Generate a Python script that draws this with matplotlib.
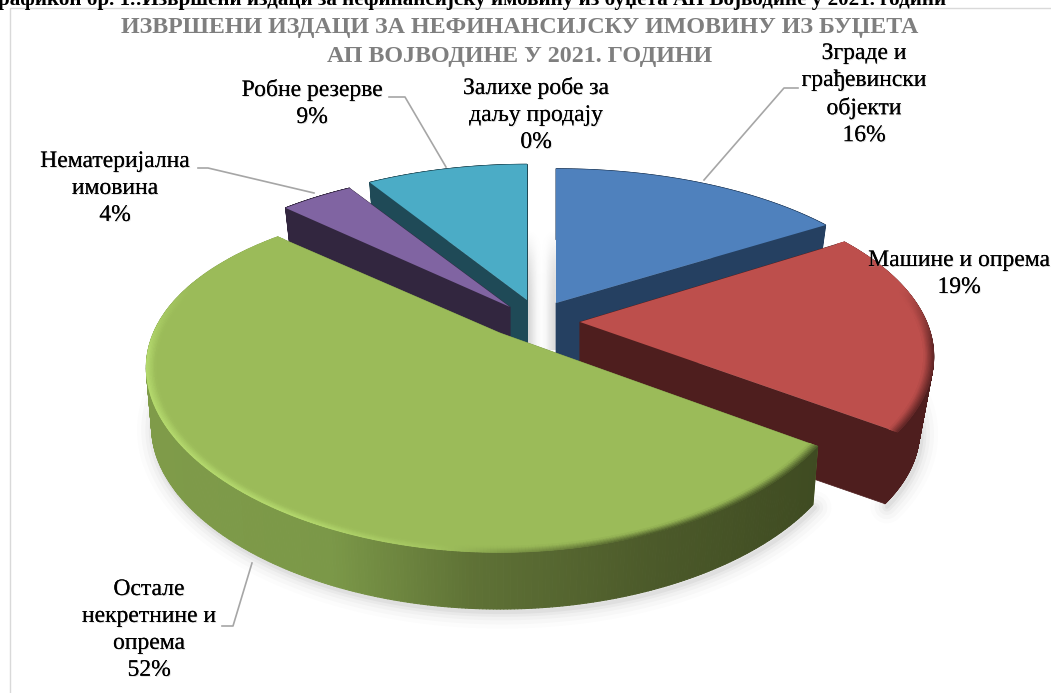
import numpy as np
import matplotlib
matplotlib.use("Agg")
import matplotlib.pyplot as plt
import matplotlib.patheffects as pe
from matplotlib.collections import PolyCollection
from matplotlib.colors import to_rgb

plt.rcParams['font.family'] = ['Liberation Serif', 'DejaVu Serif']

# podaci
categories = ["Зграде и\nграђевински\nобјекти", "Машине и опрема", "Остале\nнекретнине и\nопрема",
              "Нематеријална\nимовина", "Робне резерве", "Залихе робе за\nдаљу продају"]
values = [16, 19, 52, 4, 9, 0]
top_colors = ["#4F81BD", "#BD4F4C", "#9BBB59", "#8064A2", "#4BACC6", "#F79646"]
side_colors = ["#254061", "#4E1E1E", "#7F9B49", "#32263F", "#1F4A57", "#7F4A20"]

title = "ИЗВРШЕНИ ИЗДАЦИ ЗА НЕФИНАНСИЈСКУ ИМОВИНУ ИЗ БУЏЕТА\nАП ВОЈВОДИНЕ У 2021. ГОДИНИ"
header = "Графикон бр. 1.:Извршени издаци за нефинансијску имовину из буџета АП Војводине у 2021. години"

# izgled 3D pite (vrh isecka u pikselima, skala po x i y)
tips = [(556, 303), (580, 322), (500, 333), (510, 307), (527, 300), (541, 300)]
scales = [(1.01, 0.92), (0.99, 0.945), (0.99, 0.94), (1.0, 0.94), (0.98, 0.93), (1.0, 1.0)]
persp_y = [0.2, 0.2, 0.25, 0.2, 0.2, 0.2]
depths = [66, 76, 60, 66, 66, 66]
bottoms = [0.965, 0.96, 0.985, 0.965, 0.965, 0.965]
FX, FY, P = 350, 175, 0.2

label_pos = [(864, 54), (959, 261), (149, 590), (115, 162), (312, 90), (536, 88)]
leaders = {0: [(704, 180), (784, 88), (798, 88)],
           2: [(252, 563), (233, 626), (222, 626)],
           3: [(314, 193), (208, 168), (198, 168)],
           4: [(446, 167), (405, 97), (389, 97)]}

fig = plt.figure(figsize=(10.51, 6.93), dpi=100)
ax = fig.add_axes([0, 0, 1, 1])
ax.axis("off")


def project(t, i, bottom=False):
    # t u stepenima, u smeru kazaljke od 12 sati
    r = np.radians(t)
    x, y = np.sin(r), np.cos(r)
    rel_x = scales[i][0] * FX * x / (1 + P * y)
    rel_y = -scales[i][1] * FY * y / (1 + persp_y[i] * y)
    if bottom:
        return tips[i][0] + bottoms[i] * rel_x, tips[i][1] + bottoms[i] * rel_y + depths[i]
    return tips[i][0] + rel_x, tips[i][1] + rel_y


def mix(a, b, k):
    a, b = np.array(to_rgb(a)), np.array(to_rgb(b))
    return tuple(a + (b - a) * k)


def side_color(i, x):
    if i != 2:
        return side_colors[i]
    # zeleni obod tamni sleva nadesno
    stops_x = [150, 330, 470, 650, 830]
    stops_c = [to_rgb(c) for c in ["#7F9B49", "#7B9848", "#5F7236", "#4C5A2A", "#3E4A21"]]
    return tuple(np.interp(x, stops_x, [c[k] for c in stops_c]) for k in range(3))


total = sum(values)
ends = np.cumsum(values) / total * 360
starts = np.concatenate([[0], ends[:-1]])

# senka ispod pite
for i in [1, 2]:
    ts = np.linspace(starts[i], ends[i], 120)
    sx, sy = project(ts, i, bottom=True)
    for lw, a in zip([24, 18, 12, 7, 3], [0.012, 0.018, 0.025, 0.03, 0.04]):
        ax.plot(sx + 2, sy + 3, color="black", alpha=a, lw=lw, solid_capstyle="round", zorder=1)

# senka u procepu izmedju isecaka
fade = np.array([1.0, 0.7, 0.35, 0.15, 0.05, 0.0, 0.0, 0.0])
across = np.array([0.16, 0.09, 0.03, 0.01, 0.03, 0.09, 0.14])
gap = 1 - np.outer(1 - fade, across)
ax.imshow(gap, extent=(527, 556, 350, 222), cmap="gray", vmin=0, vmax=1, aspect="auto", zorder=1,
          interpolation="bilinear")

order = [4, 3, 0, 1, 2]
z = 2
for i in order:
    # presek isecka
    for t in [starts[i], ends[i]]:
        ax1, ay1 = project(t, i)
        bx1, by1 = project(t, i, bottom=True)
        ax.fill([tips[i][0], ax1, bx1, tips[i][0]], [tips[i][1], ay1, by1, tips[i][1] + depths[i]],
                color=side_colors[i], lw=0.5, zorder=z)
    # obod sa preliv bojom
    ts = np.linspace(starts[i], ends[i], 400)
    xt, yt = project(ts, i)
    xb, yb = project(ts, i, bottom=True)
    polys, cols = [], []
    for j in range(len(ts) - 1):
        xm = (xt[j] + xt[j + 1]) / 2
        polys.append([(xt[j], yt[j]), (xt[j + 1], yt[j + 1]), (xb[j + 1], yb[j + 1]), (xb[j], yb[j])])
        cols.append(side_color(i, xm))
    ax.add_collection(PolyCollection(polys, facecolors=cols, edgecolors=cols, linewidths=0.8, zorder=z + 1))

    # gornja povrsina i zaobljena ivica
    ax.fill(np.r_[tips[i][0], xt], np.r_[tips[i][1], yt], color=top_colors[i], lw=0, zorder=z + 2)
    if i in (1, 2):
        polys, cols = [], []
        inner = [1.0, 0.996, 0.992, 0.988, 0.984, 0.98, 0.976, 0.972]
        for j in range(len(ts) - 1):
            xm = (xt[j] + xt[j + 1]) / 2
            tm = (ts[j] + ts[j + 1]) / 2
            # svetliji rub levo kod zelene, tamniji desno
            if i == 2:
                glow = np.clip((500 - xm) / 200, 0, 1) * np.clip((288 - tm) / 25, 0, 1)
                dark = mix(top_colors[i], "#3E4A21", 0.9 * np.clip((xm - 430) / 220, 0, 1))
                edge = mix(dark, "#B7DC70", glow)
            else:
                edge = mix(top_colors[i], side_colors[i], 0.85 * np.clip((tm - 78) / 20, 0, 1))
            for k in range(len(inner) - 1):
                a0, a1 = inner[k], inner[k + 1]
                tx, ty = tips[i]
                polys.append([(tx + (xt[j] - tx) * a0, ty + (yt[j] - ty) * a0),
                              (tx + (xt[j + 1] - tx) * a0, ty + (yt[j + 1] - ty) * a0),
                              (tx + (xt[j + 1] - tx) * a1, ty + (yt[j + 1] - ty) * a1),
                              (tx + (xt[j] - tx) * a1, ty + (yt[j] - ty) * a1)])
                cols.append(mix(edge, top_colors[i], (k + 0.5) / (len(inner) - 1)))
        ax.add_collection(PolyCollection(polys, facecolors=cols, edgecolors=cols, linewidths=0.6, zorder=z + 3))
    z += 4

# linije do natpisa
for i, pts in leaders.items():
    ax.plot([p[0] for p in pts], [p[1] for p in pts], color="#A6A6A6", lw=1.2, zorder=30)

shadow = [pe.withSimplePatchShadow(offset=(0.7, -0.7), shadow_rgbFace="#999999", alpha=0.3), pe.Normal()]
for i, name in enumerate(categories):
    txt = name + "\n" + str(values[i]) + "%"
    ax.text(label_pos[i][0], label_pos[i][1] - 11, txt, ha="center", va="top", fontsize=17, color="black",
            linespacing=1.37, zorder=40, path_effects=shadow)

ax.text(520, 17, title, ha="center", va="top", fontsize=17.3, fontweight="bold", color="#7F7F7F",
        linespacing=1.5, zorder=40)
ax.text(946, 0, header, ha="right", va="center", fontsize=15.2, fontweight="bold", color="black", zorder=40)

# okvir grafikona
ax.plot([10, 10, 1051], [693, 8, 8], color="#D9D9D9", lw=1, zorder=0)

ax.set_xlim(0, 1051)
ax.set_ylim(693, 0)
fig.savefig("out.png", dpi=100, facecolor="white")
